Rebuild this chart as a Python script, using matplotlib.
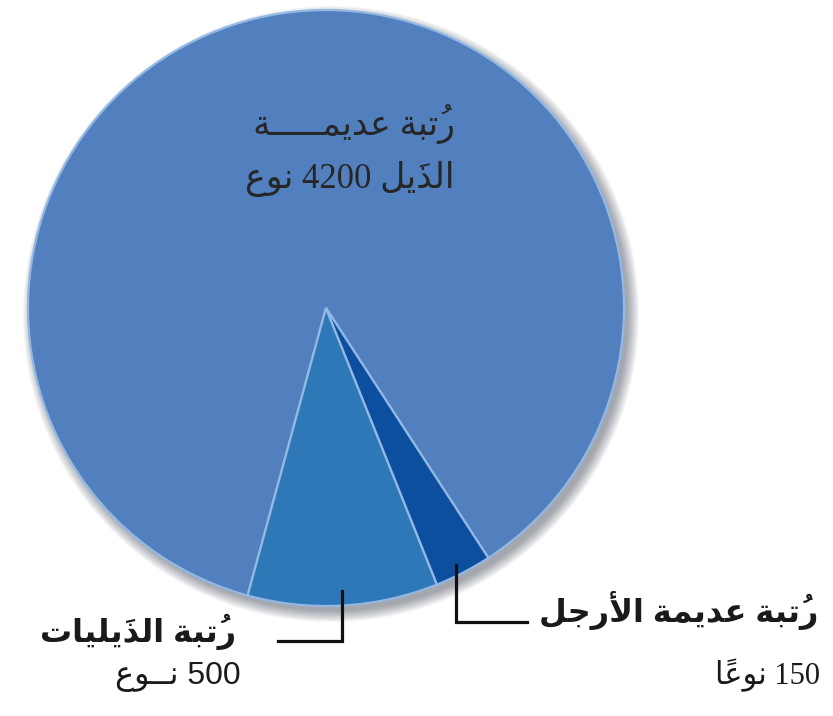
import numpy as np
import matplotlib
matplotlib.use("Agg")
import matplotlib.pyplot as plt
from matplotlib.patches import Circle

# data: species count per order
orders = ["رُتبة عديمـــــة الذَيل", "رُتبة الذَيليات", "رُتبة عديمة الأرجل"]
species = [4200, 500, 150]
label_lines = [
    ["رُتبة عديمـــــة", "الذَيل 4200 نوع"],
    ["رُتبة الذَيليات", "500 نــوع"],
    ["رُتبة عديمة الأرجل", "150 نوعًا"],
]
colors = ["#5280be", "#2f78b8", "#0b4f9e"]

# --- tiny Arabic shaper (matplotlib has no complex text layout) ---
FORMS = {  # isolated, final, initial, medial
    "ا": ("\uFE8D", "\uFE8E", None, None),
    "أ": ("\uFE83", "\uFE84", None, None),
    "ب": ("\uFE8F", "\uFE90", "\uFE91", "\uFE92"),
    "ة": ("\uFE93", "\uFE94", None, None),
    "ت": ("\uFE95", "\uFE96", "\uFE97", "\uFE98"),
    "ج": ("\uFE9D", "\uFE9E", "\uFE9F", "\uFEA0"),
    "د": ("\uFEA9", "\uFEAA", None, None),
    "ذ": ("\uFEAB", "\uFEAC", None, None),
    "ر": ("\uFEAD", "\uFEAE", None, None),
    "ع": ("\uFEC9", "\uFECA", "\uFECB", "\uFECC"),
    "ل": ("\uFEDD", "\uFEDE", "\uFEDF", "\uFEE0"),
    "م": ("\uFEE1", "\uFEE2", "\uFEE3", "\uFEE4"),
    "ن": ("\uFEE5", "\uFEE6", "\uFEE7", "\uFEE8"),
    "و": ("\uFEED", "\uFEEE", None, None),
    "ي": ("\uFEF1", "\uFEF2", "\uFEF3", "\uFEF4"),
}
LAM_ALEF = {"ا": ("\uFEFB", "\uFEFC"), "أ": ("\uFEF7", "\uFEF8")}
MARKS = "\u064B\u064E\u064F\u0650\u0651\u0652"
TATWEEL = "\u0640"


def can_next(b):
    return b == TATWEEL or (b in FORMS and FORMS[b][2] is not None)


def can_prev(b):
    return b == TATWEEL or b in FORMS or b.startswith("LA")


def shape_word(word):
    cl = []
    for ch in word:
        if ch in MARKS and cl:
            cl[-1][1] += ch
        else:
            cl.append([ch, ""])
    merged = []
    i = 0
    while i < len(cl):
        b, m = cl[i]
        if b == "ل" and i + 1 < len(cl) and cl[i + 1][0] in LAM_ALEF:
            merged.append(["LA" + cl[i + 1][0], m + cl[i + 1][1]])
            i += 2
        else:
            merged.append([b, m])
            i += 1
    out = []
    for i, (b, m) in enumerate(merged):
        p = i > 0 and can_next(merged[i - 1][0]) and can_prev(b)
        n = i < len(merged) - 1 and can_next(b) and can_prev(merged[i + 1][0])
        if b.startswith("LA"):
            g = LAM_ALEF[b[2]][1 if p else 0]
        elif b in FORMS:
            f = FORMS[b]
            g = f[3] if (p and n) else f[1] if p else f[2] if n else f[0]
        else:
            g = b
        # zero-width mark goes first so it lands over its base letter
        out.append(m + g)
    return "".join(reversed(out))


def visual(text):
    words = text.split(" ")
    return " ".join(w if w.isdigit() else shape_word(w) for w in reversed(words))


W, H = 833, 716
fig = plt.figure(figsize=(W / 100, H / 100), dpi=100)
ax = fig.add_axes([0, 0, 1, 1])

cx, cy, r = 326, H - 308, 298

# soft shadow under the pie
for k in range(12):
    ax.add_patch(Circle((cx + 5, cy - 6), r + 10 - k, color="#1c2438",
                        alpha=0.04, lw=0, zorder=1))

wedges, _ = ax.pie(species, colors=colors, startangle=-57, counterclock=True,
                   center=(cx, cy), radius=r, frame=True,
                   wedgeprops=dict(edgecolor="#93b8e4", linewidth=1.6))
for w in wedges:
    w.set_zorder(2)
ax.set_xlim(0, W)
ax.set_ylim(0, H)
ax.set_aspect("equal")
ax.axis("off")

ser = ["Liberation Serif", "DejaVu Sans"]
sans = ["Liberation Sans", "DejaVu Sans"]

# label inside the largest slice
ax.text(455, H - 135, visual(label_lines[0][0]), ha="right", va="baseline",
        fontsize=25, family=ser, color="#262626", zorder=3)
ax.text(455, H - 188, visual(label_lines[0][1]), ha="right", va="baseline",
        fontsize=25, family=ser, color="#262626", zorder=3)

# leader lines from the two small slices
def anchor(w, frac=0.95):
    a = np.deg2rad((w.theta1 + w.theta2) / 2)
    return cx + frac * r * np.cos(a), cy + frac * r * np.sin(a)

x1, y1 = anchor(wedges[1])
ax.plot([x1, x1, 278], [y1, H - 641, H - 641], color="#111111", lw=2.3,
        solid_joinstyle="miter", zorder=3)
x2, y2 = anchor(wedges[2])
ax.plot([x2, x2, 527], [y2 - 6, H - 622, H - 622], color="#111111", lw=2.3,
        solid_joinstyle="miter", zorder=3)

ax.text(236, H - 642, visual(label_lines[1][0]), ha="right", va="baseline",
        fontsize=23, fontweight="bold", family=sans, color="#1a1a1a")
ax.text(241, H - 684, visual(label_lines[1][1]), ha="right", va="baseline",
        fontsize=23, family=sans, color="#1a1a1a")
ax.text(818, H - 622, visual(label_lines[2][0]), ha="right", va="baseline",
        fontsize=23, fontweight="bold", family=sans, color="#1a1a1a")
ax.text(820, H - 684, visual(label_lines[2][1]), ha="right", va="baseline",
        fontsize=22, family=ser, color="#1a1a1a")

fig.savefig("out.png", dpi=100, facecolor="white")
